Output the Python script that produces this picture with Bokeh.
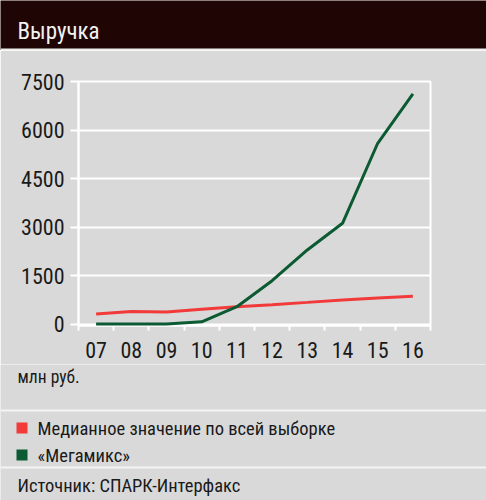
from bokeh.plotting import figure
from bokeh.layouts import column
from bokeh.models import Range1d, FixedTicker, ColumnDataSource
from bokeh.core.properties import value
from bokeh.embed import file_html
from bokeh.resources import INLINE

# ---- data ----
title = "Выручка"
years = ["07", "08", "09", "10", "11", "12", "13", "14", "15", "16"]
median = [310, 390, 370, 455, 535, 600, 670, 745, 805, 860]
megamix = [0, 0, 0, 70, 535, 1340, 2290, 3115, 5590, 7120]
y_ticks = [0, 1500, 3000, 4500, 6000, 7500]
unit_label = "млн руб."
series_names = ["Медианное значение по всей выборке", "«Мегамикс»"]
source_text = "Источник: СПАРК-Интерфакс"

FONT = "Roboto Condensed"
BG = "#d9d9d9"
HEAD = "#1f0503"
TXT = "#1a1a1a"
RED = "#f23a3a"
GREEN = "#0b5a32"
W = 486


def bare(fig, fill):
    fig.axis.visible = False
    fig.grid.visible = False
    fig.outline_line_color = None
    fig.min_border = 0
    fig.background_fill_color = fill
    fig.border_fill_color = fill


# ---- header (page y 0..50) ----
head = figure(width=W, height=50, x_range=Range1d(0, W), y_range=Range1d(50, 0),
              output_backend="svg", toolbar_location=None, frame_align=False)
bare(head, HEAD)
head.quad(left=[0], right=[W], top=[48], bottom=[50], color="#eeeeee", line_color=None)
head.text(x=[17], y=[31], text=[title], text_font=value(FONT), text_font_size="23px",
          text_color="#f2f2f2", text_baseline="alphabetic")

# ---- main chart (page y 50..364) ----
xs = list(range(len(years)))
src = ColumnDataSource(dict(x=xs, median=median, megamix=megamix))
p = figure(width=W, height=314, x_range=Range1d(-0.5, len(years) - 0.5),
           y_range=Range1d(-45, 7500), output_backend="svg", toolbar_location=None,
           frame_align=False, background_fill_color=BG, border_fill_color=BG,
           min_border_left=78, min_border_right=56, min_border_top=31, min_border_bottom=39)
p.outline_line_color = "white"
p.outline_line_width = 2
p.xgrid.visible = False
p.ygrid.ticker = FixedTicker(ticks=y_ticks)
p.ygrid.grid_line_color = "white"
p.ygrid.grid_line_width = 2

p.yaxis.ticker = FixedTicker(ticks=y_ticks)
p.yaxis.axis_line_color = "white"
p.yaxis.axis_line_width = 2
p.yaxis.major_tick_line_color = "white"
p.yaxis.major_tick_line_width = 2
p.yaxis.major_tick_out = 8
p.yaxis.major_tick_in = 0
p.yaxis.minor_tick_line_color = None
p.yaxis.major_label_text_font = FONT
p.yaxis.major_label_text_font_size = "22px"
p.yaxis.major_label_text_color = TXT
p.yaxis.major_label_standoff = 6

p.xaxis.ticker = FixedTicker(ticks=xs, minor_ticks=[i - 0.5 for i in range(len(years) + 1)])
p.xaxis.major_label_overrides = {i: y for i, y in zip(xs, years)}
p.xaxis.axis_line_color = "white"
p.xaxis.axis_line_width = 2
p.xaxis.major_tick_line_color = None
p.xaxis.major_tick_out = 0
p.xaxis.major_tick_in = 0
p.xaxis.minor_tick_line_color = "white"
p.xaxis.minor_tick_line_width = 2
p.xaxis.minor_tick_out = 5
p.xaxis.minor_tick_in = 0
p.xaxis.major_label_text_font = FONT
p.xaxis.major_label_text_font_size = "22px"
p.xaxis.major_label_text_color = TXT
p.xaxis.major_label_standoff = 11

p.line("x", "median", source=src, color=RED, line_width=3, level="overlay")
p.line("x", "megamix", source=src, color=GREEN, line_width=3, level="overlay")

# ---- bottom: unit, legend, source (page y 364..500) ----
bot = figure(width=W, height=136, x_range=Range1d(0, W), y_range=Range1d(500, 364),
             output_backend="svg", toolbar_location=None, frame_align=False)
bare(bot, BG)
bot.text(x=[17], y=[376], text=[unit_label], text_font=value(FONT), text_font_size="17.5px",
         text_color=TXT, text_baseline="middle")
bot.quad(left=[0, 0], right=[W, W], top=[409, 466], bottom=[411, 468],
         color="#f4f4f4", line_color=None)
bot.quad(left=[16, 16], right=[27, 27], top=[422, 449], bottom=[433, 460],
         color=[RED, GREEN], line_color=None)
bot.text(x=[37, 37], y=[428, 455], text=series_names, text_font=value(FONT),
         text_font_size="18.5px", text_color=TXT, text_baseline="middle")
bot.text(x=[17], y=[485], text=[source_text], text_font=value(FONT), text_font_size="18.5px",
         text_color=TXT, text_baseline="middle")

layout = column(head, p, bot, spacing=0)
open("out.html", "w").write(file_html(layout, INLINE))
